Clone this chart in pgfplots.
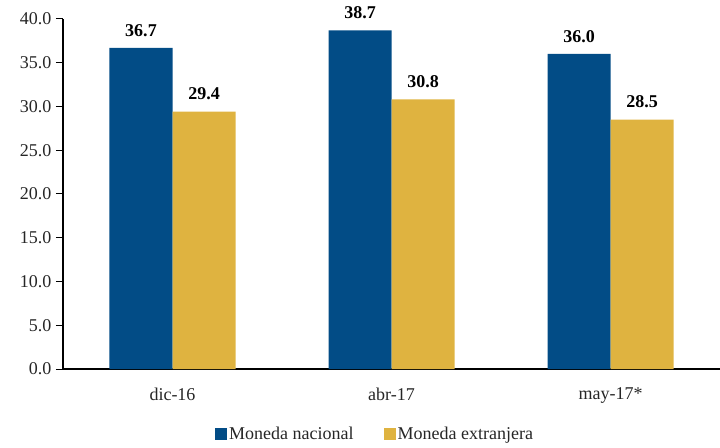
\documentclass[border=0pt]{standalone}
\usepackage{pgfplots}
\pgfplotsset{compat=1.18}
\usepackage{fontspec}
\setmainfont{Liberation Serif}
\definecolor{cblue}{HTML}{024C86}
\definecolor{cgold}{HTML}{DFB340}
\begin{document}
\begin{tikzpicture}
\begin{axis}[
  scale only axis,
  width=657pt, height=350pt,
  ymin=0, ymax=40,
  xmin=-0.5, xmax=2.5,
  ytick={0,5,...,40},
  xtick={0,1,2},
  xticklabels={dic-16,abr-17,may-17*},
  axis x line*=bottom,
  axis y line*=left,
  x axis line style={-, line width=1.6pt},
  y axis line style={-, line width=1.6pt},
  major x tick style={draw=none},
  y tick style={black, line width=1pt},
  ytick align=outside,
  major tick length=7pt,
  yticklabel style={/pgf/number format/fixed, /pgf/number format/fixed zerofill, /pgf/number format/precision=1, /pgf/number format/assume math mode=true, xshift=-1pt},
  tick label style={font=\fontsize{18}{21}\selectfont, text=black!85},
  xticklabel style={yshift=-8pt},
  ybar, bar width=63pt,
  nodes near coords,
  nodes near coords style={font=\fontsize{18}{21}\selectfont\bfseries, /pgf/number format/fixed, /pgf/number format/fixed zerofill, /pgf/number format/precision=1, /pgf/number format/assume math mode=true, yshift=8pt},
  legend style={at={(0.475,-0.185)}, anchor=center, draw=none, fill=none, legend columns=2, font=\fontsize{18}{21}\selectfont, text=black!85, /tikz/every even column/.append style={column sep=28pt}},
  legend image code/.code={\fill[#1] (0pt,-6pt) rectangle (12pt,6pt);},
  clip=false,
]
\addplot[fill=cblue, draw=none, bar shift=-31.5pt] coordinates {(0,36.7) (1,38.7) (2,36.0)};
\addlegendentry{Moneda nacional}
\addplot[fill=cgold, draw=none, bar shift=31.5pt] coordinates {(0,29.4) (1,30.8) (2,28.5)};
\addlegendentry{Moneda extranjera}
\end{axis}
\pgfresetboundingbox
\path[use as bounding box] ([shift={(-63pt,-78pt)}]current axis.south west) rectangle ([shift={(0pt,19pt)}]current axis.north east);
\end{tikzpicture}
\end{document}
